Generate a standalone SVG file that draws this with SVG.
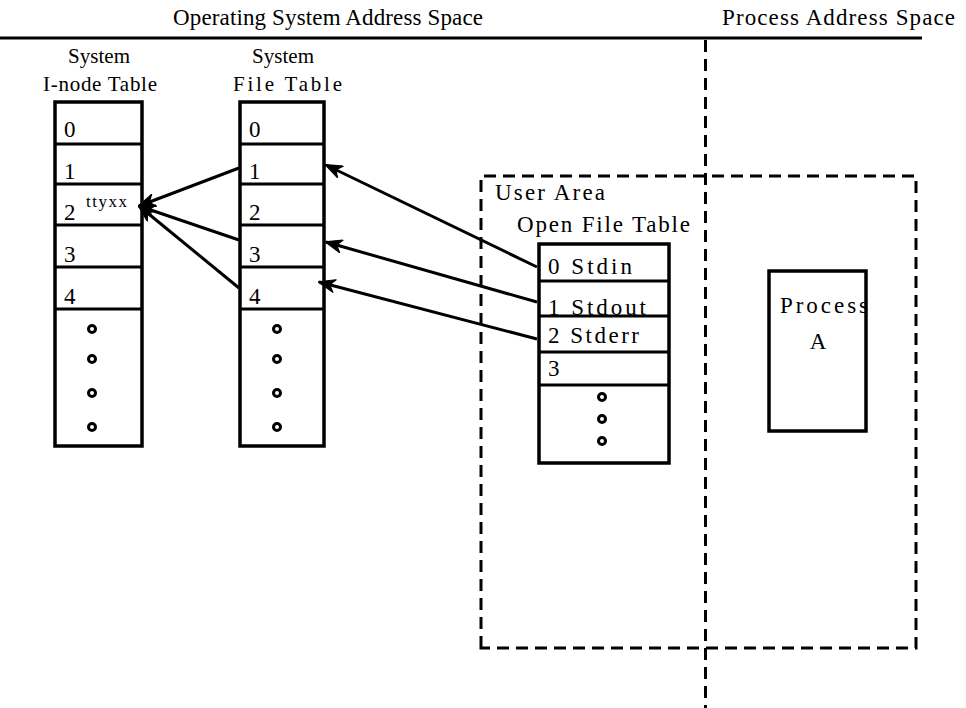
<svg xmlns="http://www.w3.org/2000/svg" width="966" height="708" viewBox="0 0 966 708">
  <style>
    text { font-family: "Liberation Serif", "DejaVu Serif", serif; fill: #000; }
    .t { font-size: 23px; }
    .h { font-size: 21px; }
    .c { font-size: 23px; }
    .sm { font-size: 17px; }
    .box { fill: #fff; stroke: #000; stroke-width: 3.5; }
    .sep { stroke: #000; stroke-width: 3; fill: none; }
    .dash { stroke: #000; stroke-width: 3; fill: none; stroke-dasharray: 12 7; }
    .dot { fill: none; stroke: #000; stroke-width: 3; }
    .arr { stroke: #000; stroke-width: 3; fill: none; marker-end: url(#head); }
  </style>
  <defs>
    <marker id="head" viewBox="0 0 18 14" refX="17" refY="7" markerWidth="18" markerHeight="14" markerUnits="userSpaceOnUse" orient="auto">
      <path d="M18,7 L1,0.5 L6,7 L1,13.5 Z" fill="#000" stroke="#000" stroke-width="1.2" stroke-linejoin="round"/>
    </marker>
  </defs>

  <!-- address space headings and dividers -->
  <g id="spaces">
    <text class="t" x="173" y="25" textLength="310" lengthAdjust="spacing">Operating System Address Space</text>
    <text class="t" x="722" y="25" textLength="233" lengthAdjust="spacing">Process Address Space</text>
    <line x1="0" y1="38" x2="922" y2="38" stroke="#000" stroke-width="3"/>
    <line class="dash" x1="705.5" y1="40" x2="705.5" y2="708"/>
  </g>

  <!-- system i-node table -->
  <g id="inode-table">
    <text class="h" x="68" y="63" textLength="62" lengthAdjust="spacing">System</text>
    <text class="h" x="43" y="91" textLength="114" lengthAdjust="spacing">I-node  Table</text>
    <rect class="box" x="55" y="102" width="87" height="344"/>
    <path class="sep" d="M55,144H142M55,184H142M55,225H142M55,267H142M55,309H142"/>
    <text class="c" x="64" y="137">0</text>
    <text class="c" x="64" y="179">1</text>
    <text class="c" x="64" y="220">2</text>
    <text class="sm" x="86" y="207" textLength="41" lengthAdjust="spacing">ttyxx</text>
    <text class="c" x="64" y="262">3</text>
    <text class="c" x="64" y="304">4</text>
    <circle class="dot" cx="92" cy="329" r="3.5"/>
    <circle class="dot" cx="92" cy="359" r="3.5"/>
    <circle class="dot" cx="92" cy="393" r="3.5"/>
    <circle class="dot" cx="92" cy="427" r="3.5"/>
  </g>

  <!-- system file table -->
  <g id="file-table">
    <text class="h" x="252" y="63" textLength="62" lengthAdjust="spacing">System</text>
    <text class="h" x="233" y="91" textLength="109" lengthAdjust="spacing">File    Table</text>
    <rect class="box" x="240" y="102" width="84" height="344"/>
    <path class="sep" d="M240,144H324M240,184H324M240,225H324M240,267H324M240,309H324"/>
    <text class="c" x="249" y="137">0</text>
    <text class="c" x="249" y="179">1</text>
    <text class="c" x="249" y="220">2</text>
    <text class="c" x="249" y="262">3</text>
    <text class="c" x="249" y="304">4</text>
    <circle class="dot" cx="277" cy="329" r="3.5"/>
    <circle class="dot" cx="277" cy="359" r="3.5"/>
    <circle class="dot" cx="277" cy="393" r="3.5"/>
    <circle class="dot" cx="277" cy="427" r="3.5"/>
  </g>

  <!-- user area with open file table -->
  <g id="user-area">
    <path class="dash" d="M481,648V176H916V648Z"/>
    <text class="c" x="495" y="200" textLength="110" lengthAdjust="spacing">User Area</text>
    <text class="c" x="517" y="232" textLength="173" lengthAdjust="spacing">Open File Table</text>
  </g>

  <g id="open-file-table">
    <rect class="box" x="539" y="244" width="130" height="219"/>
    <path class="sep" d="M539,281H669M539,316H669M539,352H669M539,385H669"/>
    <text class="c" x="548" y="274" textLength="84" lengthAdjust="spacing">0  Stdin</text>
    <text class="c" x="548" y="315" textLength="98" lengthAdjust="spacing">1  Stdout</text>
    <text class="c" x="548" y="343" textLength="91" lengthAdjust="spacing">2  Stderr</text>
    <text class="c" x="548" y="376">3</text>
    <circle class="dot" cx="602" cy="397" r="3.5"/>
    <circle class="dot" cx="602" cy="419" r="3.5"/>
    <circle class="dot" cx="602" cy="441" r="3.5"/>
  </g>

  <!-- process -->
  <g id="process-a">
    <rect class="box" x="769" y="271" width="97" height="160" stroke-width="3"/>
    <text class="c" x="780" y="313" textLength="88" lengthAdjust="spacing">Process</text>
    <text class="c" x="818" y="349" text-anchor="middle">A</text>
  </g>

  <!-- pointers between tables -->
  <g id="connectors">
    <line class="arr" x1="239" y1="168" x2="139" y2="206"/>
    <line class="arr" x1="239" y1="240" x2="139" y2="206"/>
    <line class="arr" x1="239" y1="288" x2="139" y2="206"/>
    <line class="arr" x1="537" y1="267" x2="326" y2="165"/>
    <line class="arr" x1="537" y1="302" x2="326" y2="242"/>
    <line class="arr" x1="537" y1="339" x2="319" y2="282"/>
  </g>
</svg>
